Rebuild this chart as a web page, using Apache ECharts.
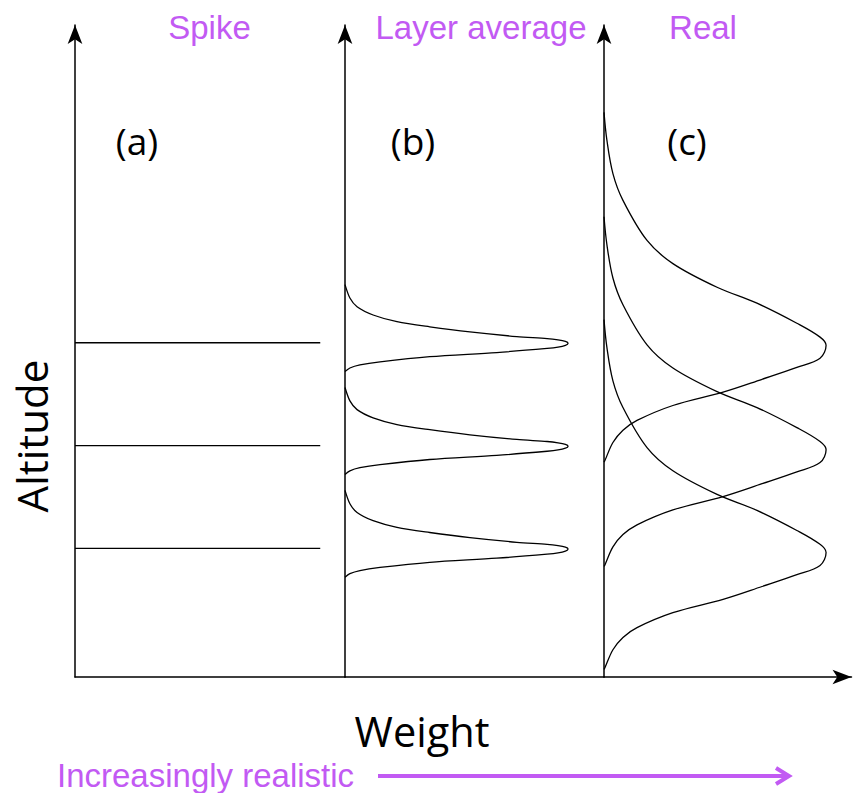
<!DOCTYPE html>
<html>
<head>
<meta charset="utf-8">
<script src="https://cdn.jsdelivr.net/npm/echarts@6/dist/echarts.min.js"></script>
<style>
  html, body { margin: 0; padding: 0; background: #fff; }
  #chart { width: 854px; height: 793px; }
</style>
</head>
<body>
<div id="chart"></div>
<script>
// ---- Data ----
const panelTitles = ['Spike', 'Layer average', 'Real'];
const panelLabels = ['(a)', '(b)', '(c)'];
const xAxisTitle = 'Weight';
const yAxisTitle = 'Altitude';
const footerText = 'Increasingly realistic';

// layer centre altitudes (arbitrary altitude units)
const spikeAlt = [2.5, 4.5, 6.5];
const layerAvgAlt = [2.5, 4.5, 6.5];
const realAlt = [2.42, 4.42, 6.45];

// spike weight (arbitrary weight units, peak of profiles = 100)
const spikeWeight = 110;

// layer-average weighting profile: [weight, altitude offset from layer centre]
const layerAvgProfile = [
  [0, 1.13], [2.2, 0.87], [5.4, 0.70], [12.6, 0.54], [23.3, 0.41], [38, 0.31],
  [56, 0.21], [77, 0.12], [90.6, 0.08], [95.5, 0.055], [98.8, 0.025], [100, -0.01],
  [98.8, -0.05], [95.5, -0.085], [90.6, -0.11], [68, -0.19], [38, -0.27], [15.7, -0.37],
  [6.7, -0.43], [2.2, -0.49], [0, -0.56]
];

// realistic weighting profile: [weight, altitude offset from layer centre]
const realProfile = [
  [0, 4.53], [1.3, 3.99], [4.0, 3.34], [8.5, 2.82], [19.3, 2.04], [30.9, 1.59],
  [50.7, 1.13], [68.6, 0.82], [86.5, 0.43], [96.9, 0.16], [99.6, 0],
  [96.9, -0.25], [86.5, -0.43], [70.9, -0.66], [53.4, -0.91], [30.9, -1.17],
  [14.8, -1.46], [8.5, -1.65], [4.0, -1.89], [0.4, -2.24], [0, -2.27]
];

// axis extents
const altMax = 12.68;
const weightMax = [121.1, 116.1, 111.0];

// ---- Build chart ----
const chart = echarts.init(document.getElementById('chart'), null, { renderer: 'svg' });
const purple = '#c25af3';
const lineStyle = { color: '#000', width: 1.3 };

function shifted(profile, centre) {
  return profile.map(p => [p[0], p[1] + centre]);
}

const series = [];
spikeAlt.forEach(a => {
  series.push({ type: 'line', xAxisIndex: 0, yAxisIndex: 0, showSymbol: false, symbol: 'none',
    data: [[0, a], [spikeWeight, a]], lineStyle: lineStyle, silent: true });
});
layerAvgAlt.forEach(a => {
  series.push({ type: 'line', xAxisIndex: 1, yAxisIndex: 1, showSymbol: false, symbol: 'none',
    smooth: 0.3, data: shifted(layerAvgProfile, a), lineStyle: lineStyle, silent: true });
});
realAlt.forEach(a => {
  series.push({ type: 'line', xAxisIndex: 2, yAxisIndex: 2, showSymbol: false, symbol: 'none',
    smooth: 0.35, data: shifted(realProfile, a), lineStyle: lineStyle, silent: true });
});

const grids = [
  { left: 75, width: 270, top: 25, bottom: 116 },
  { left: 345, width: 259, top: 25, bottom: 116 },
  { left: 604, width: 247.5, top: 25, bottom: 116 }
];

const axisLineBase = { show: true, lineStyle: { color: '#000', width: 1.5 } };
const arrowSize = [11, 19];

const xAxes = grids.map((g, i) => ({
  type: 'value', gridIndex: i, min: 0, max: weightMax[i],
  axisLine: Object.assign({}, axisLineBase, i === 2 ? { symbol: ['none', 'arrow'], symbolSize: arrowSize } : {}),
  axisTick: { show: false }, axisLabel: { show: false }, splitLine: { show: false }
}));
const yAxes = grids.map((g, i) => ({
  type: 'value', gridIndex: i, min: 0, max: altMax,
  axisLine: Object.assign({}, axisLineBase, { symbol: ['none', 'arrow'], symbolSize: arrowSize }),
  axisTick: { show: false }, axisLabel: { show: false }, splitLine: { show: false }
}));

const titleFont = { fontFamily: 'Liberation Sans, Arial, sans-serif', fontSize: 33, fill: purple };
const labelFont = { fontFamily: 'Open Sans, Noto Sans, sans-serif', fill: '#000' };

const graphic = [
  { type: 'text', x: 209.5, y: 27, style: Object.assign({ text: panelTitles[0], align: 'center', verticalAlign: 'middle' }, titleFont) },
  { type: 'text', x: 481, y: 27, style: Object.assign({ text: panelTitles[1], align: 'center', verticalAlign: 'middle' }, titleFont) },
  { type: 'text', x: 703, y: 27, style: Object.assign({ text: panelTitles[2], align: 'center', verticalAlign: 'middle' }, titleFont) },
  { type: 'text', x: 137, y: 140, style: Object.assign({ text: panelLabels[0], align: 'center', verticalAlign: 'middle', fontSize: 37 }, labelFont) },
  { type: 'text', x: 413, y: 140, style: Object.assign({ text: panelLabels[1], align: 'center', verticalAlign: 'middle', fontSize: 37 }, labelFont) },
  { type: 'text', x: 687, y: 140, style: Object.assign({ text: panelLabels[2], align: 'center', verticalAlign: 'middle', fontSize: 37 }, labelFont) },
  { type: 'text', x: 422, y: 731, style: Object.assign({ text: xAxisTitle, align: 'center', verticalAlign: 'middle', fontSize: 41.5 }, labelFont) },
  { type: 'text', x: 31, y: 436, rotation: Math.PI / 2, style: Object.assign({ text: yAxisTitle, align: 'center', verticalAlign: 'middle', fontSize: 42 }, labelFont) },
  { type: 'text', x: 57, y: 775, style: Object.assign({ text: footerText, align: 'left', verticalAlign: 'middle' }, titleFont) },
  { type: 'line', shape: { x1: 378, y1: 776, x2: 789, y2: 776 }, style: { stroke: purple, lineWidth: 4 } },
  { type: 'polyline', shape: { points: [[776, 768], [789, 776], [776, 784]] }, style: { stroke: purple, lineWidth: 4, fill: null, lineJoin: 'miter' } }
];

chart.setOption({
  animation: false,
  backgroundColor: '#fff',
  grid: grids,
  xAxis: xAxes,
  yAxis: yAxes,
  series: series,
  graphic: graphic
});
</script>
</body>
</html>
